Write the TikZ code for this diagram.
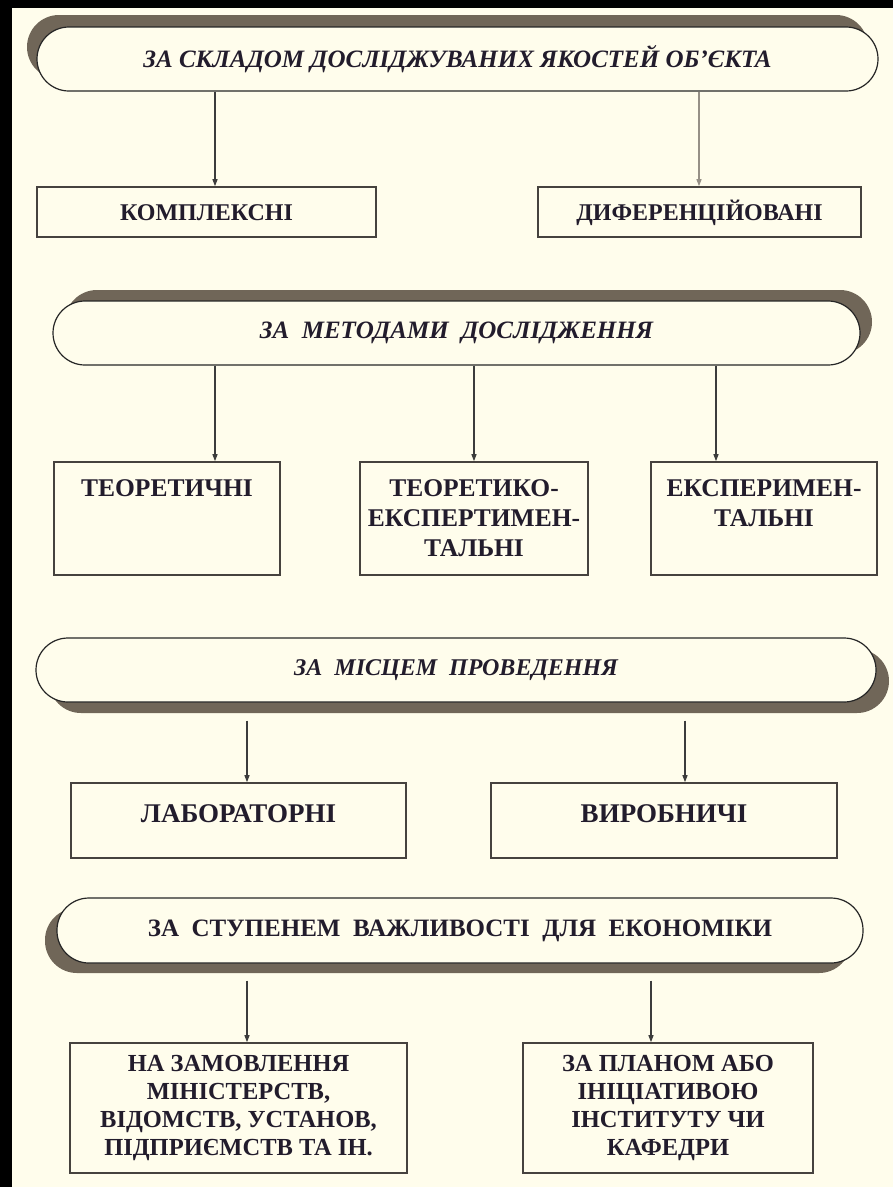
\documentclass[tikz,border=0pt]{standalone}
\usepackage{fontspec}
\setmainfont{Liberation Serif}
\usetikzlibrary{arrows.meta,shadows}
\definecolor{bgc}{RGB}{255,253,236}
\definecolor{shc}{RGB}{112,102,88}
\definecolor{txc}{RGB}{34,28,44}
\definecolor{bxc}{RGB}{70,66,62}
\definecolor{lnc}{RGB}{60,60,60}
\definecolor{lnl}{RGB}{150,144,134}
\begin{document}
\begin{tikzpicture}[x=1pt,y=-1pt,
  pill/.style={draw=black!85, line width=1.2pt, fill=bgc, rounded corners=32pt,
    minimum height=64pt, inner sep=0pt, text=txc, font=\fontsize{25}{29}\selectfont\bfseries\itshape},
  pillup/.style={pill, font=\fontsize{25}{29}\selectfont\bfseries},
  boxnode/.style={draw=bxc, line width=1.6pt, fill=bgc, inner sep=0pt, text=txc,
    align=center, drop shadow={shadow xshift=1.2pt, shadow yshift=-1.2pt, fill=shc!70, opacity=1},
    font=\fontsize{24}{29.5}\selectfont\bfseries},
  boxtwo/.style={boxnode, minimum height=113pt, font=\fontsize{25.5}{30}\selectfont\bfseries},
  conn/.style={draw=lnc, line width=1.1pt, -{Triangle[length=7pt,width=5pt]}},
]
\useasboundingbox (0,0) rectangle (893,1187);
\fill[black] (0,0) rectangle (893,1187);
\fill[bgc] (12,8) rectangle (893,1187);

% pills
\node[pill, minimum width=841pt, drop shadow={shadow xshift=-10pt, shadow yshift=12pt, fill=shc, opacity=1}]
  (p1) at (457.5,59) {ЗА СКЛАДОМ ДОСЛІДЖУВАНИХ ЯКОСТЕЙ ОБ'ЄКТА};
\node[pill, minimum width=807pt, drop shadow={shadow xshift=12pt, shadow yshift=11pt, fill=shc, opacity=1}]
  (p2) at (456.5,333) {ЗА~~МЕТОДАМИ~~ДОСЛІДЖЕННЯ};
\node[pill, minimum width=840pt, font=\fontsize{24}{29}\selectfont\bfseries\itshape,
  drop shadow={shadow xshift=13pt, shadow yshift=-11pt, fill=shc, opacity=1}]
  (p3) at (456,670) {ЗА~~МІСЦЕМ~~ПРОВЕДЕННЯ};
\node[pillup, minimum width=806pt, minimum height=65pt, drop shadow={shadow xshift=-12pt, shadow yshift=-10pt, fill=shc, opacity=1}]
  (p4) at (460,930.5) {ЗА~~СТУПЕНЕМ~~ВАЖЛИВОСТІ~~ДЛЯ~~ЕКОНОМІКИ};

% row 1
\node[boxnode, minimum width=339pt, text height=33.8pt, text depth=16.2pt] (b11) at (206.5,212) {КОМПЛЕКСНІ};
\node[boxnode, minimum width=323pt, text height=33.8pt, text depth=16.2pt] (b12) at (699.5,212) {ДИФЕРЕНЦІЙОВАНІ};
% row 2
\node[boxtwo, minimum width=226pt] (b21) at (167,518.5) {ТЕОРЕТИЧНІ\\\mbox{}\\\mbox{}};
\node[boxtwo, minimum width=228pt] (b22) at (474,518.5) {ТЕОРЕТИКО-\\ЕКСПЕРТИМЕН-\\ТАЛЬНІ};
\node[boxtwo, minimum width=226pt] (b23) at (764,518.5) {ЕКСПЕРИМЕН-\\ТАЛЬНІ\\\mbox{}};
% row 3
\node[boxnode, minimum width=335pt, text height=39pt, text depth=36pt, font=\fontsize{27}{30}\selectfont\bfseries] (b31) at (238.5,820.5) {ЛАБОРАТОРНІ};
\node[boxnode, minimum width=346pt, text height=39pt, text depth=36pt, font=\fontsize{27}{30}\selectfont\bfseries] (b32) at (664,820.5) {ВИРОБНИЧІ};
% row 4
\node[boxnode, minimum width=337pt, minimum height=130pt, font=\fontsize{24.5}{28.3}\selectfont\bfseries] (b41) at (238.5,1108)
  {НА ЗАМОВЛЕННЯ\\МІНІСТЕРСТВ,\\ВІДОМСТВ, УСТАНОВ,\\ПІДПРИЄМСТВ ТА ІН.};
\node[boxnode, minimum width=290pt, minimum height=130pt, font=\fontsize{24.5}{28.3}\selectfont\bfseries] (b42) at (668,1108)
  {ЗА ПЛАНОМ АБО\\ІНІЦІАТИВОЮ\\ІНСТИТУТУ ЧИ\\КАФЕДРИ};

% connector columns
\coordinate (x11) at (215,0);
\coordinate (x12) at (699,0);
\coordinate (x21) at (215,0);
\coordinate (x22) at (474,0);
\coordinate (x23) at (716,0);
\coordinate (x31) at (247,0);
\coordinate (x32) at (685,0);
\coordinate (x41) at (247,0);
\coordinate (x42) at (651,0);

\draw[conn] (p1.south -| x11) -- (b11.north -| x11);
\draw[conn, draw=lnl] (p1.south -| x12) -- (b12.north -| x12);
\draw[conn] (p2.south -| x21) -- (b21.north -| x21);
\draw[conn] (p2.south -| x22) -- (b22.north -| x22);
\draw[conn] (p2.south -| x23) -- (b23.north -| x23);
\draw[conn, shorten <=18pt] (p3.south -| x31) -- (b31.north -| x31);
\draw[conn, shorten <=18pt] (p3.south -| x32) -- (b32.north -| x32);
\draw[conn, shorten <=17pt] (p4.south -| x41) -- (b41.north -| x41);
\draw[conn, shorten <=17pt] (p4.south -| x42) -- (b42.north -| x42);
\end{tikzpicture}
\end{document}
